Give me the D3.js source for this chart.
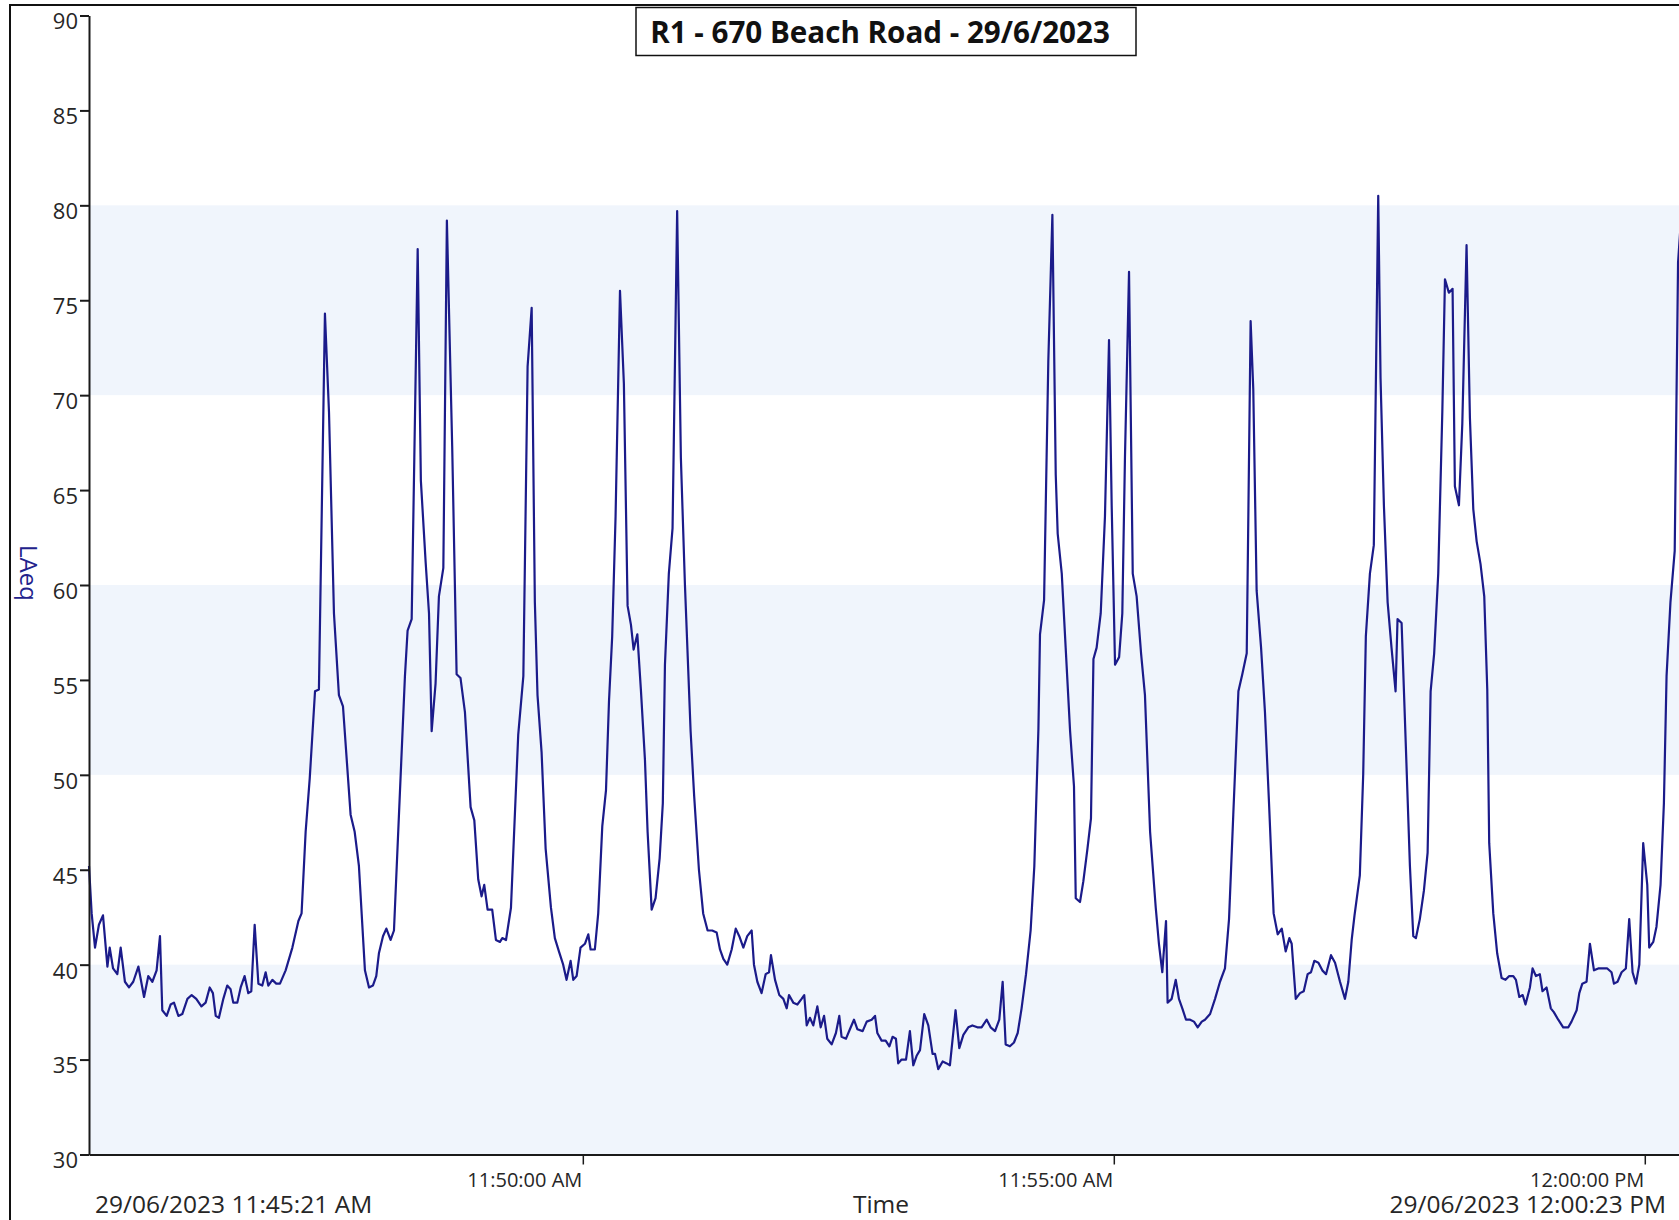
<!DOCTYPE html>
<html><head><meta charset="utf-8">
<script src="https://cdn.jsdelivr.net/npm/d3@7"></script>
<style>
body{margin:0;background:#fff;}
svg{display:block;}
text{font-family:"Open Sans","Noto Sans",sans-serif;}
</style></head><body>
<svg id="c" width="1679" height="1220"></svg>
<script>
// ---- data ----
const titleText = "R1 - 670 Beach Road - 29/6/2023";
const yLabel = "LAeq";
const xLabel = "Time";
const startLabel = "29/06/2023 11:45:21 AM";
const endLabel = "29/06/2023 12:00:23 PM";
const yTicks = [30,35,40,45,50,55,60,65,70,75,80,85,90];
const xTickTimes = ["11:50:00","11:55:00","12:00:00"];
const xTickLabels = ["11:50:00 AM","11:55:00 AM","12:00:00 PM"];
const bandRanges = [[30,40],[50,60],[70,80]];
// seconds after 29/06/2023 11:45:21
const seconds = [0,1.5,3.4,5.6,7.9,10.4,11.7,13.6,16.0,17.9,20.3,22.6,25.0,27.9,31.1,33.5,35.8,38.2,40.1,41.4,43.9,46.1,48.0,50.5,52.7,55.6,58.0,60.6,63.5,65.9,68.2,70.0,71.6,73.4,75.9,78.1,80.0,81.5,83.8,85.7,87.9,90.0,91.7,93.6,95.7,97.9,99.8,101.3,103.6,105.8,107.9,111.1,114.9,118.3,120.1,122.4,124.7,127.7,129.9,133.3,135.6,138.4,141.2,143.5,147.8,150.1,152.5,155.9,158.2,160.4,162.3,163.8,166.1,168.0,170.4,172.3,178.5,180.0,182.3,183.8,185.7,187.5,190.2,192.1,193.6,195.8,197.7,200.2,202.2,205.2,207.7,209.9,212.4,215.6,217.7,219.9,221.8,223.3,225.2,227.8,229.9,232.2,233.5,235.6,238.4,242.5,245.4,247.8,250.1,251.9,253.4,255.7,258.0,261.0,263.2,265.5,267.9,269.8,272.1,273.6,275.5,277.7,280.2,282.1,283.4,285.8,287.7,290.0,292.1,293.8,295.6,297.5,300.0,302.2,304.3,306.2,307.7,309.8,311.8,314.1,315.6,317.9,320.1,322.4,324.2,325.4,327.6,329.7,332.3,334.4,336.7,339.9,341.9,344.6,347.0,349.5,352.1,354.6,356.5,358.4,360.6,363.1,365.4,367.4,369.7,371.9,374.4,375.7,377.6,380.0,382.3,384.2,385.3,387.6,390.0,392.3,394.2,395.5,397.9,400.2,402.6,404.1,405.5,407.3,409.2,411.5,413.4,415.3,417.1,419.6,422.0,423.9,425.2,427.7,429.9,432.2,434.1,437.1,439.4,442.2,444.1,445.4,447.8,450.1,452.2,454.0,455.9,457.2,459.1,461.6,463.8,465.7,467.6,469.5,471.9,474.2,476.6,478.0,479.8,482.3,484.6,486.4,489.6,491.7,494.0,496.8,499.1,501.9,504.3,507.2,509.4,511.9,514.3,516.2,517.9,520.3,522.6,524.7,526.9,529.4,532.0,534.1,536.4,537.3,539.6,542.0,544.3,546.2,547.3,549.6,551.8,554.3,556.5,557.5,559.9,561.8,564.1,566.1,567.5,569.3,571.6,574.0,576.3,577.8,579.7,582.0,583.8,585.3,587.6,589.7,591.9,594.4,596.6,599.5,602.7,604.5,606.4,608.5,609.4,611.7,614.0,615.8,617.7,619.8,622.1,624.3,626.4,628.7,630.5,633.4,636.2,639.0,641.8,644.1,646.5,649.4,651.6,654.1,656.3,657.8,659.7,662.2,664.4,666.7,669.3,671.6,673.9,676.1,678.2,679.5,681.8,684.2,686.3,688.5,690.4,692.3,694.6,696.8,698.9,701.7,704.0,706.8,709.6,711.5,713.4,715.0,718.0,719.9,721.4,723.7,725.9,728.4,729.7,731.6,733.7,735.9,738.2,739.3,741.6,744.0,746.3,748.2,749.7,751.9,754.2,756.3,758.0,760.0,762.3,764.6,766.1,768.3,770.4,771.7,774.0,775.9,778.3,780.2,782.1,784.0,786.2,788.3,790.0,791.1,793.4,795.6,798.1,800.3,802.4,804.7,806.2,808.1,810.0,811.6,814.1,815.6,817.5,819.7,821.2,823.5,825.9,827.6,830.1,832.9,835.8,837.6,840.5,842.0,843.7,846.1,848.0,850.3,852.7,855.5,857.8,860.2,861.6,863.6,865.9,868.3,870.2,872.1,874.0,875.9,878.1,880.4,881.5,883.8,885.6,887.9,889.8,891.3,893.5,895.9,897.8,900.0];
const laeq = [45.2,42.7,40.9,42.1,42.6,39.9,40.9,39.8,39.5,40.9,39.1,38.8,39.1,39.9,38.3,39.4,39.1,39.7,41.5,37.6,37.3,37.9,38.0,37.3,37.4,38.2,38.4,38.2,37.8,38.0,38.8,38.5,37.3,37.2,38.2,38.9,38.7,38.0,38.0,38.8,39.4,38.5,38.6,42.1,39.0,38.9,39.6,38.9,39.2,39.0,39.0,39.7,40.9,42.3,42.7,47.0,49.8,54.4,54.5,74.3,69.1,58.5,54.2,53.6,47.9,47.0,45.2,39.7,38.8,38.9,39.4,40.6,41.5,41.9,41.3,41.8,55.2,57.6,58.2,66.7,77.7,65.5,61.2,58.5,52.3,54.8,59.4,60.9,79.2,67.3,55.3,55.1,53.3,48.3,47.6,44.5,43.6,44.2,42.9,42.9,41.3,41.2,41.4,41.3,43.0,52.1,55.2,71.5,74.6,59.1,54.2,51.2,46.1,43.0,41.4,40.7,40.0,39.2,40.2,39.2,39.4,40.9,41.1,41.6,40.8,40.8,42.7,47.3,49.2,53.9,57.3,63.6,75.5,70.6,58.9,57.9,56.6,57.4,54.5,50.8,47.0,42.9,43.5,45.6,48.5,55.8,60.6,63.0,79.7,66.7,60.0,52.3,48.9,45.0,42.7,41.8,41.8,41.7,40.8,40.3,40.0,40.8,41.9,41.5,40.9,41.5,41.8,40.0,39.1,38.5,39.5,39.6,40.5,39.2,38.4,38.2,37.7,38.4,38.0,37.9,38.2,38.4,36.8,37.2,36.8,37.8,36.7,37.3,36.1,35.8,36.4,37.3,36.2,36.1,36.6,37.1,36.6,36.5,37.0,37.1,37.3,36.4,36.0,36.0,35.7,36.2,36.1,34.8,35.0,35.0,36.5,34.7,35.2,35.5,37.4,36.8,35.3,35.3,34.5,34.9,34.8,34.7,37.6,35.6,36.3,36.7,36.8,36.7,36.7,37.1,36.7,36.5,37.1,39.1,35.8,35.7,35.9,36.4,37.7,39.5,41.8,45.2,52.4,57.4,59.2,71.8,79.5,65.8,62.7,60.6,56.7,52.3,49.4,43.5,43.3,44.4,46.1,47.7,56.1,56.7,58.5,63.6,72.9,64.2,55.8,56.2,58.5,66.7,76.5,60.6,59.4,56.4,54.2,47.0,43.0,41.1,39.6,42.3,38.0,38.2,39.2,38.2,37.7,37.1,37.1,37.0,36.7,37.0,37.1,37.4,38.2,39.1,39.8,42.4,47.9,54.4,55.3,56.4,73.9,70.3,59.7,56.7,53.3,48.5,42.7,41.6,41.9,40.7,41.4,41.1,38.2,38.5,38.6,39.5,39.6,40.2,40.1,39.7,39.5,40.5,40.1,39.1,38.2,39.1,41.3,42.6,44.7,50.0,57.3,60.6,62.1,80.5,70.9,64.2,59.1,56.7,54.4,58.2,58.0,51.5,45.2,41.5,41.4,42.4,43.9,45.9,54.4,56.4,60.6,69.1,76.1,75.4,75.6,65.2,64.2,68.5,77.9,68.8,64.0,62.3,61.1,59.4,54.5,46.4,42.7,40.6,39.3,39.2,39.4,39.4,39.2,38.3,38.4,37.9,38.8,39.8,39.4,39.5,38.6,38.8,37.7,37.5,37.1,36.7,36.7,37.0,37.6,38.5,39.0,39.1,41.1,39.7,39.8,39.8,39.8,39.6,39.0,39.1,39.6,39.8,42.4,39.6,39.0,40.0,46.4,44.2,40.9,41.2,42.0,44.2,48.5,55.2,59.1,61.8,77.0,80.0];

// ---- chart ----
const svg = d3.select("#c");
const start = new Date(2023,5,29,11,45,21);
const end = new Date(2023,5,29,12,0,23);
const toDate = s => new Date(start.getTime() + s*1000);
const parseT = t => { const [h,m,s] = t.split(":").map(Number); return new Date(2023,5,29,h,m,s); };

const x = d3.scaleTime().domain([start,end]).range([89, 1685.5]);
const y = d3.scaleLinear().domain([30,90]).range([1154.5, 15.5]);

// outer frame
svg.append("rect").attr("x",10).attr("y",5).attr("width",1720).attr("height",1300)
  .attr("fill","none").attr("stroke","#111").attr("stroke-width",2);

// bands
svg.append("g").selectAll("rect").data(bandRanges).join("rect")
  .attr("x", x(start)).attr("width", x(end)-x(start))
  .attr("y", d => y(d[1])).attr("height", d => y(d[0]) - y(d[1]))
  .attr("fill", "#f0f5fc");

// line
const pts = seconds.map((s,i)=>({t:toDate(s), v:laeq[i]}));
svg.append("path").datum(pts)
  .attr("fill","none").attr("stroke","#1b1b8a").attr("stroke-width",2.2).attr("stroke-linejoin","round")
  .attr("d", d3.line().x(d=>x(d.t)).y(d=>y(d.v)));

// y axis
const ya = svg.append("g").attr("transform","translate(89,0)")
  .call(d3.axisLeft(y).tickValues(yTicks).tickSize(9).tickSizeOuter(0).tickPadding(2));
ya.select(".domain").attr("stroke","#1a1a1a").attr("stroke-width",2);
ya.selectAll(".tick line").attr("stroke","#1a1a1a").attr("stroke-width",2);
ya.selectAll(".tick text").attr("font-size",22).attr("fill","#262626")
  .attr("font-family","'Open Sans',sans-serif").attr("y",0).attr("dy","13.4px");

// x axis
const xa = svg.append("g").attr("transform","translate(0,1154.5)")
  .call(d3.axisBottom(x).tickValues(xTickTimes.map(parseT)).tickFormat((d,i)=>xTickLabels[i]).tickSize(10).tickSizeOuter(0));
xa.select(".domain").attr("stroke","#1a1a1a").attr("stroke-width",2);
xa.selectAll(".tick line").attr("stroke","#1a1a1a").attr("stroke-width",1.5);
xa.selectAll(".tick text").attr("font-size",20).attr("fill","#262626")
  .attr("font-family","'Open Sans',sans-serif")
  .attr("text-anchor","end").attr("x",-1).attr("y",32.5).attr("dy",0);

// bottom labels
svg.append("text").attr("x",95).attr("y",1212.5).attr("font-size",24.5).attr("fill","#262626").text(startLabel);
svg.append("text").attr("x",1666).attr("y",1212.5).attr("text-anchor","end").attr("font-size",24.5).attr("fill","#262626").text(endLabel);
svg.append("text").attr("x",881).attr("y",1212.5).attr("text-anchor","middle").attr("font-size",24.5).attr("fill","#262626").text(xLabel);

// y label
svg.append("text").attr("transform","translate(29,573) rotate(90)")
  .attr("text-anchor","middle").attr("dominant-baseline","central")
  .attr("font-size",24).attr("fill","#22228c").text(yLabel);

// title
svg.append("rect").attr("x",636).attr("y",7.5).attr("width",500).attr("height",48)
  .attr("fill","#fff").attr("stroke","#111").attr("stroke-width",1.5);
svg.append("text").attr("x",880).attr("y",42.5).attr("text-anchor","middle")
  .attr("font-size",29.6).attr("font-weight","bold").attr("fill","#111").text(titleText);
</script>
</body></html>
